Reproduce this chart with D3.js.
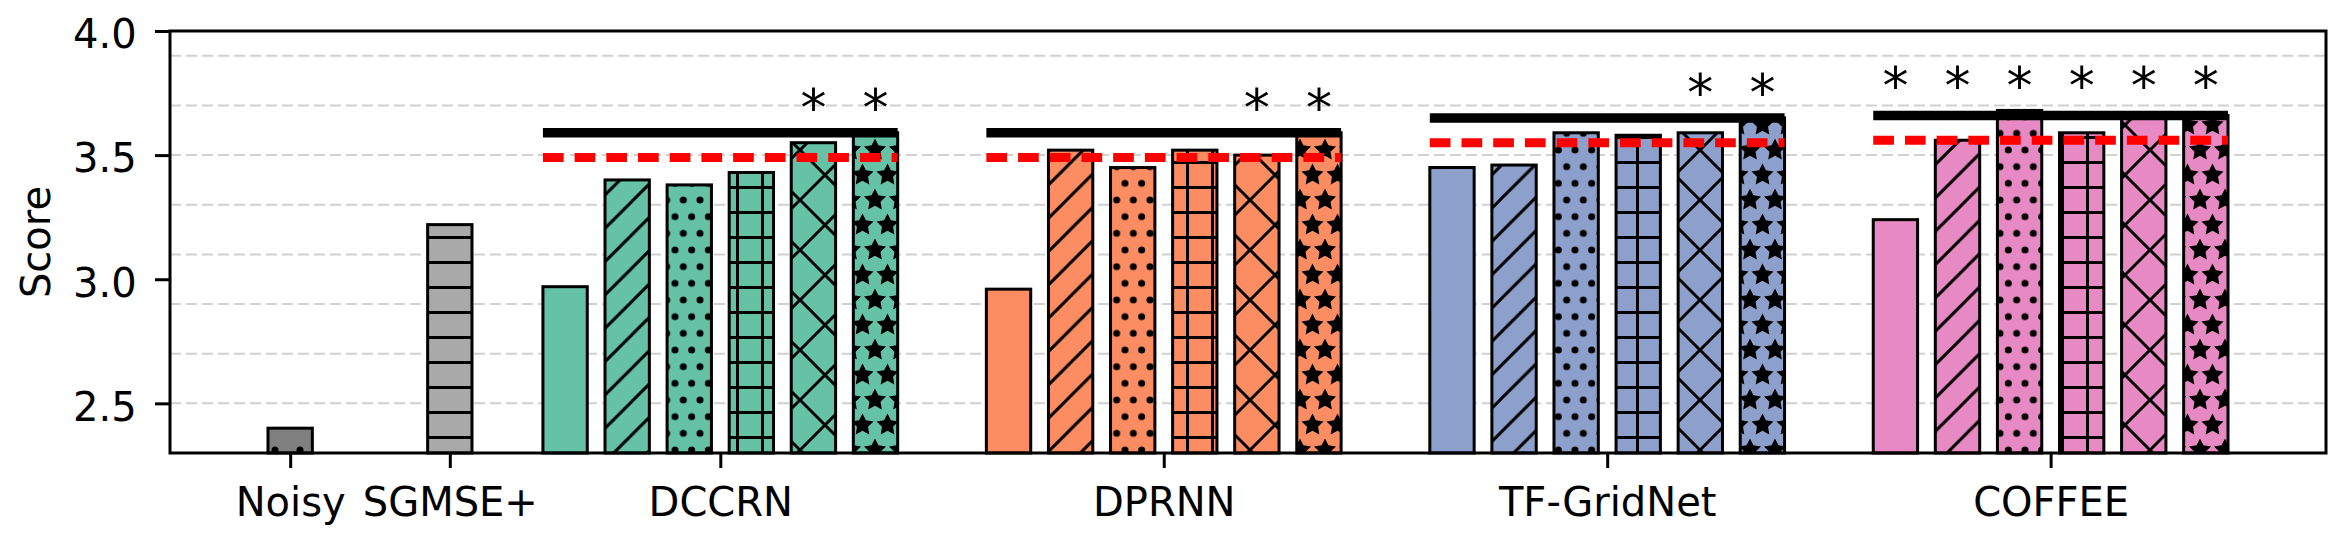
<!DOCTYPE html>
<html><head><meta charset="utf-8">
<script src="https://cdn.jsdelivr.net/npm/d3@7"></script>
<style>
body{margin:0;background:#fff}
svg{display:block}
text{font-family:"DejaVu Sans",sans-serif;fill:#000}
</style>
</head><body>
<svg id="chart" width="2340" height="539"></svg>
<script>
// ---------------- data ----------------
const baselineNames = ["Noisy", "SGMSE+"];
const baselineValues = [2.40, 3.22];
const baselinePos = [-0.97, -0.61];          // x-axis coordinates
const baselineColors = ["#808080", "#a9a9a9"];
const baselineHatch = ["dotsSparse", "minus"];

const groupNames = ["DCCRN", "DPRNN", "TF-GridNet", "COFFEE"];
const groupPos = [0, 1, 2, 3];                // x-axis coordinates
const groupColors = ["#66c2a5", "#fc8d62", "#8da0cb", "#e78ac3"];
const variantHatch = ["none", "slash", "dots", "plus", "cross", "stars"];

const dccrn     = [2.97, 3.40, 3.38, 3.43, 3.55, 3.59];
const dprnn     = [2.96, 3.52, 3.45, 3.52, 3.50, 3.59];
const tfgridnet = [3.45, 3.46, 3.59, 3.58, 3.59, 3.65];
const coffee    = [3.24, 3.56, 3.68, 3.59, 3.65, 3.66];

const solidRef  = [3.59, 3.59, 3.65, 3.66];   // black solid line per group
const dashedRef = [3.49, 3.49, 3.55, 3.56];   // red dashed line per group
const significant = [[4, 5], [4, 5], [4, 5], [0, 1, 2, 3, 4, 5]];

const yDomain = [2.3, 4.0];
const yTicks = [2.5, 3.0, 3.5, 4.0];
const yGrid = [2.5, 2.7, 2.9, 3.1, 3.3, 3.5, 3.7, 3.9];

// ---------------- layout ----------------
const groupValues = [dccrn, dprnn, tfgridnet, coffee];
const m = {left: 170, right: 2326, top: 31, bottom: 453};
const barW = 0.1, step = 0.14;
const nVar = variantHatch.length;
const offsets = d3.range(nVar).map(i => (i - (nVar - 1) / 2) * step);

const centers = baselinePos.concat(...groupPos.map(g => offsets.map(o => g + o)));
const lo = d3.min(centers) - barW / 2, hi = d3.max(centers) + barW / 2;
const padX = 0.05 * (hi - lo);
const x = d3.scaleLinear().domain([lo - padX, hi + padX]).range([m.left, m.right]);
const y = d3.scaleLinear().domain(yDomain).range([m.bottom, m.top]);
const bw = x(barW) - x(0);

const svg = d3.select("#chart");
const defs = svg.append("defs");
const HL = 3.0; // hatch line width

function pattern(id, w, h) {
  return defs.append("pattern").attr("id", id)
    .attr("patternUnits", "userSpaceOnUse").attr("x", 0).attr("y", 0)
    .attr("width", w).attr("height", h);
}
function linePath(p, d) {
  p.append("path").attr("d", d).attr("stroke", "#000")
    .attr("stroke-width", HL).attr("fill", "none");
}
// slash
{ const s = 100 / 3; const p = pattern("h-slash", s, s);
  linePath(p, `M${-s/2},${s/2}L${s/2},${-s/2}M${-s/2},${1.5*s}L${1.5*s},${-s/2}M${s/2},${1.5*s}L${1.5*s},${s/2}`); }
// cross
{ const s = 50; const p = pattern("h-cross", s, s);
  linePath(p, `M${-s/2},${s/2}L${s/2},${-s/2}M${-s/2},${1.5*s}L${1.5*s},${-s/2}M${s/2},${1.5*s}L${1.5*s},${s/2}` +
              `M${-s/2},${-s/2}L${1.5*s},${1.5*s}M${s/2},${-s/2}L${1.5*s},${s/2}M${-s/2},${s/2}L${s/2},${1.5*s}`); }
// plus
{ const s = 25; const p = pattern("h-plus", s, s);
  linePath(p, `M${s/2},-2L${s/2},${s+2}M-2,${s/2}L${s+2},${s/2}`); }
// minus
{ const s = 25; const p = pattern("h-minus", s, s);
  linePath(p, `M-2,${s/2}L${s+2},${s/2}`); }
// dots
function dotPattern(id, s, r) {
  const p = pattern(id, s, 2 * s);
  [[0,0],[s,0],[0,2*s],[s,2*s],[s/2,s]].forEach(([cx, cy]) =>
    p.append("circle").attr("cx", cx).attr("cy", cy).attr("r", r).attr("fill", "#000"));
}
dotPattern("h-dots", 50 / 3, 3.5);
dotPattern("h-dotsSparse", 25, 3.5);
// stars
{ const s = 25; const p = pattern("h-stars", s, 2 * s);
  const R = 11.6, r = R * 0.5;
  const star = d3.range(10).map(k => {
    const a = -Math.PI / 2 + k * Math.PI / 5, rr = k % 2 ? r : R;
    return [rr * Math.cos(a), rr * Math.sin(a)];
  });
  [[0,0],[s,0],[0,2*s],[s,2*s],[s/2,s]].forEach(([cx, cy]) =>
    p.append("path").attr("d", "M" + star.map(q => [q[0]+cx, q[1]+cy].join(",")).join("L") + "Z")
      .attr("fill", "#000"));
}

// ---------------- grid ----------------
svg.append("g").selectAll("line").data(yGrid).join("line")
  .attr("x1", m.left).attr("x2", m.right)
  .attr("y1", d => y(d)).attr("y2", d => y(d))
  .attr("stroke", "#d0d0d0").attr("stroke-width", 2).attr("stroke-dasharray", "11,5");

// ---------------- bars ----------------
const bars = [];
baselineNames.forEach((n, i) => bars.push({c: baselinePos[i], v: baselineValues[i], color: baselineColors[i], hatch: baselineHatch[i]}));
groupNames.forEach((n, gi) => groupValues[gi].forEach((v, vi) =>
  bars.push({c: groupPos[gi] + offsets[vi], v, color: groupColors[gi], hatch: variantHatch[vi]})));

const gb = svg.append("g");
bars.forEach(b => {
  const rx = x(b.c - barW / 2), ry = y(b.v), rh = y(yDomain[0]) - y(b.v);
  gb.append("rect").attr("x", rx).attr("y", ry).attr("width", bw).attr("height", rh).attr("fill", b.color);
  if (b.hatch !== "none")
    gb.append("rect").attr("x", rx).attr("y", ry).attr("width", bw).attr("height", rh).attr("fill", `url(#h-${b.hatch})`);
  gb.append("rect").attr("x", rx).attr("y", ry).attr("width", bw).attr("height", rh)
    .attr("fill", "none").attr("stroke", "#000").attr("stroke-width", 3);
});

// ---------------- reference lines ----------------
const gl = svg.append("g");
groupPos.forEach((g, gi) => {
  const x1 = x(g + offsets[0] - barW / 2), x2 = x(g + offsets[nVar - 1] + barW / 2);
  gl.append("line").attr("x1", x1).attr("x2", x2).attr("y1", y(solidRef[gi])).attr("y2", y(solidRef[gi]))
    .attr("stroke", "#000").attr("stroke-width", 9.5);
  gl.append("line").attr("x1", x1).attr("x2", x2).attr("y1", y(dashedRef[gi])).attr("y2", y(dashedRef[gi]))
    .attr("stroke", "#ff0000").attr("stroke-width", 9).attr("stroke-dasharray", "20.7,11");
});

// ---------------- asterisks ----------------
const ga = svg.append("g");
groupPos.forEach((g, gi) => {
  const top = d3.max(groupValues[gi]) + 0.15;
  significant[gi].forEach(vi => {
    ga.append("text").attr("x", x(g + offsets[vi])).attr("y", y(top))
      .attr("dy", "0.585em").attr("text-anchor", "middle")
      .style("font-size", "52px").text("*");
  });
});

// ---------------- axes ----------------
const xAxis = d3.axisBottom(x)
  .tickValues(baselinePos.concat(groupPos))
  .tickFormat((d, i) => baselineNames.concat(groupNames)[i])
  .tickSize(15).tickSizeOuter(0).tickPadding(19.6);
const gx = svg.append("g").attr("transform", `translate(0,${m.bottom})`).call(xAxis);
gx.select(".domain").remove();
gx.selectAll(".tick line").attr("stroke", "#000").attr("stroke-width", 3);
gx.selectAll(".tick text").style("font-size", "40px").attr("font-family", null);

const yAxis = d3.axisLeft(y).tickValues(yTicks).tickFormat(d3.format(".1f"))
  .tickSize(15).tickSizeOuter(0).tickPadding(18.3);
const gy = svg.append("g").attr("transform", `translate(${m.left},0)`).call(yAxis);
gy.select(".domain").remove();
gy.selectAll(".tick line").attr("stroke", "#000").attr("stroke-width", 3);
gy.selectAll(".tick text").style("font-size", "40px").attr("dy", "0.42em").attr("font-family", null);

svg.append("text").attr("transform", `translate(49.5,${(m.top + m.bottom) / 2}) rotate(-90)`)
  .attr("text-anchor", "middle").style("font-size", "40px").text("Score");

// frame
svg.append("rect").attr("x", m.left).attr("y", m.top).attr("width", m.right - m.left)
  .attr("height", m.bottom - m.top).attr("fill", "none").attr("stroke", "#000").attr("stroke-width", 3);
</script>
</body></html>
